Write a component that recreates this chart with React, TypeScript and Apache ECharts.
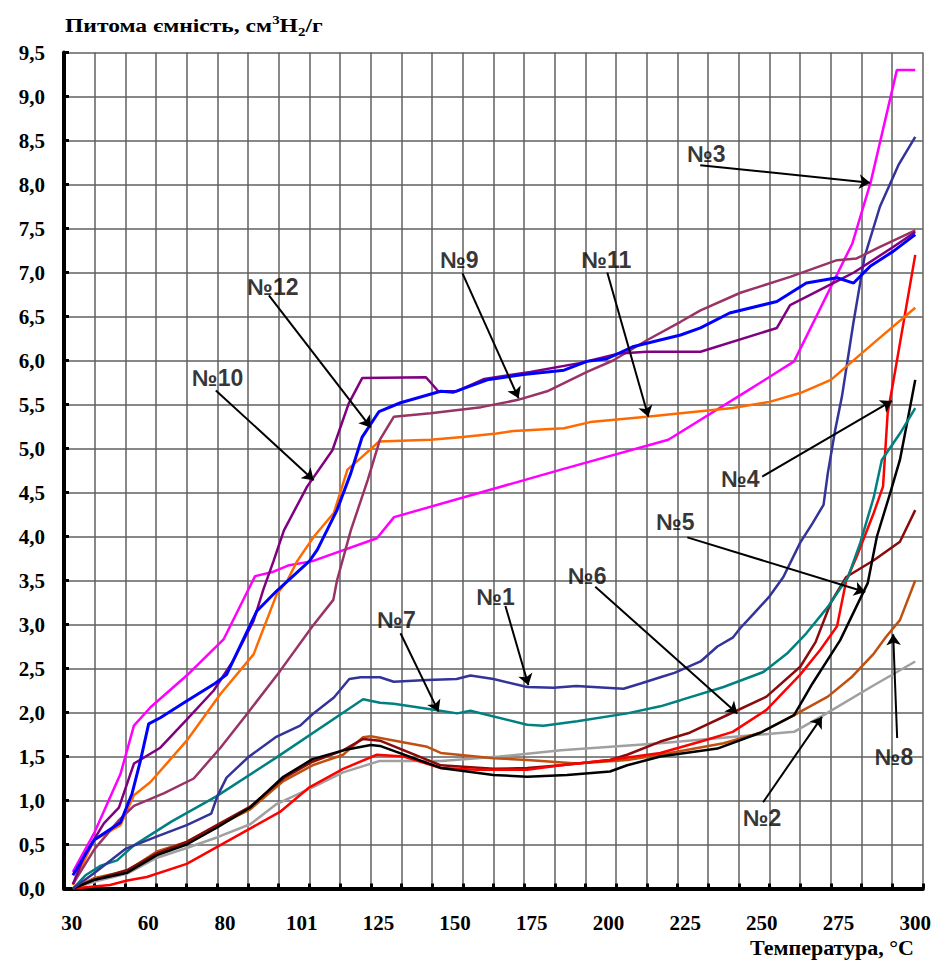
import React, { useEffect, useRef } from "react";
import * as echarts from "echarts";

// x positions are in grid-cell units along the temperature scale (0..28);
// temperature label k sits at position 0.25 + 2.5 * k
const tempLabels = ["30", "60", "80", "101", "125", "150", "175", "200", "225", "250", "275", "300"];
const labelPositions = tempLabels.map((_, k) => 0.25 + 2.5 * k);

type P = [number, number];

const s1: P[] = [[0.29,0],[1.0,0.18],[2.0,0.45],[3.1,0.6],[4.0,0.72],[4.8,0.85],[5.0,1.05],[5.3,1.26],[6.0,1.49],[6.9,1.72],[7.7,1.85],[8.1,1.98],[8.8,2.17],[9.3,2.38],[9.67,2.40],[10.3,2.40],[10.75,2.35],[11.84,2.37],[12.8,2.38],[13.25,2.42],[14.0,2.38],[15.1,2.29],[15.96,2.28],[16.7,2.30],[17.25,2.29],[18.24,2.27],[18.8,2.33],[19.44,2.40],[19.9,2.45],[20.75,2.58],[21.3,2.75],[21.8,2.85],[22.05,2.96],[22.5,3.13],[23.0,3.32],[23.45,3.54],[24.0,3.93],[24.4,4.15],[24.76,4.36],[24.9,4.72],[25.14,5.21],[25.36,5.59],[25.73,6.42],[26.1,7.18],[26.6,7.75],[27.2,8.22],[27.75,8.54]];
const s2: P[] = [[0.29,0],[1.0,0.08],[2.06,0.17],[3.03,0.35],[4.0,0.46],[4.98,0.58],[6.07,0.73],[6.93,0.96],[8.1,1.15],[9.1,1.32],[10.3,1.45],[12.3,1.45],[14.2,1.5],[16.2,1.57],[19.44,1.65],[21.0,1.70],[22.05,1.73],[23.8,1.78],[24.76,1.97],[26.4,2.31],[27.75,2.58]];
const s3: P[] = [[0.29,0.19],[0.97,0.62],[1.84,1.30],[2.28,1.85],[2.82,2.06],[4.0,2.42],[5.2,2.83],[6.23,3.55],[6.83,3.60],[7.3,3.67],[8.1,3.72],[10.2,3.98],[10.76,4.22],[16.2,4.76],[19.7,5.10],[22.3,5.66],[23.8,5.99],[25.7,7.33],[26.3,8.03],[27.15,9.3],[27.75,9.3]];
const s4: P[] = [[0.29,0],[1.5,0.04],[2.06,0.09],[2.7,0.13],[4.0,0.28],[4.98,0.47],[5.96,0.66],[7.04,0.87],[8.0,1.15],[9.1,1.36],[10.2,1.52],[11.07,1.50],[12.28,1.37],[13.47,1.35],[15.1,1.35],[16.2,1.40],[17.8,1.46],[19.44,1.54],[20.96,1.69],[21.8,1.78],[22.9,2.03],[24.0,2.43],[24.65,2.71],[25.2,2.98],[25.5,3.5],[25.84,3.77],[26.4,4.27],[26.7,4.57],[26.85,5.4],[27.03,5.75],[27.75,7.2]];
const s5: P[] = [[0.29,0],[1.0,0.1],[2.06,0.18],[3.03,0.38],[4.0,0.50],[4.98,0.69],[6.07,0.92],[7.15,1.27],[8.1,1.47],[9.1,1.57],[10.0,1.63],[10.3,1.62],[12.28,1.37],[14.0,1.29],[15.1,1.27],[16.4,1.29],[17.8,1.33],[18.36,1.40],[19.44,1.50],[21.3,1.59],[22.7,1.77],[23.8,1.97],[24.4,2.33],[25.3,2.82],[26.2,3.47],[26.5,4.0],[26.93,4.49],[27.25,4.87],[27.5,5.32],[27.75,5.78]];
const s6: P[] = [[0.29,0],[1.0,0.1],[2.06,0.21],[3.03,0.40],[4.0,0.53],[4.98,0.72],[6.07,0.93],[7.15,1.25],[8.1,1.44],[9.1,1.57],[9.75,1.70],[10.3,1.68],[12.28,1.40],[14.0,1.36],[15.1,1.37],[16.2,1.40],[17.8,1.46],[18.36,1.52],[19.44,1.67],[20.4,1.77],[21.8,2.0],[22.9,2.18],[24.0,2.52],[24.5,2.80],[25.0,3.25],[25.5,3.54],[26.4,3.73],[27.25,3.94],[27.75,4.3]];
const s7: P[] = [[0.29,0],[0.7,0.15],[1.2,0.26],[1.73,0.32],[2.28,0.49],[3.5,0.76],[4.98,1.05],[6.93,1.49],[9.75,2.15],[10.3,2.11],[10.75,2.10],[12.06,2.03],[12.82,1.99],[13.25,2.02],[15.1,1.86],[15.63,1.85],[16.73,1.90],[18.36,1.99],[19.44,2.07],[20.1,2.14],[21.5,2.29],[22.8,2.46],[23.57,2.67],[24.2,2.9],[24.9,3.2],[25.56,3.54],[25.96,3.93],[26.4,4.45],[26.66,4.87],[27.25,5.17],[27.75,5.46]];
const s8: P[] = [[0.29,0],[1.0,0.12],[2.06,0.2],[3.03,0.42],[4.0,0.53],[4.98,0.71],[6.07,0.90],[7.15,1.22],[8.1,1.40],[9.1,1.52],[9.75,1.72],[10.0,1.73],[11.84,1.61],[12.28,1.54],[14.0,1.48],[15.1,1.46],[16.73,1.42],[18.36,1.46],[19.44,1.52],[21.5,1.65],[22.7,1.77],[23.8,1.97],[24.9,2.18],[25.7,2.41],[26.4,2.67],[26.8,2.86],[27.25,3.05],[27.75,3.5]];
const s9: P[] = [[0.29,0.05],[1.0,0.45],[1.8,0.78],[2.28,0.94],[3.25,1.08],[4.23,1.25],[5.1,1.6],[5.96,1.98],[7.04,2.47],[8.1,2.98],[8.78,3.28],[8.9,3.5],[9.35,4.07],[9.9,4.64],[10.3,5.1],[10.75,5.36],[11.95,5.40],[13.6,5.47],[14.77,5.55],[15.75,5.65],[17.05,5.87],[17.9,6.0],[19.0,6.23],[20.1,6.44],[20.75,6.57],[22.05,6.77],[23.67,6.95],[25.2,7.14],[25.84,7.16],[26.6,7.29],[27.75,7.48]];
const s10: P[] = [[0.29,0.05],[0.7,0.4],[1.3,0.74],[1.79,0.92],[2.28,1.42],[3.14,1.60],[4.0,1.92],[4.88,2.25],[5.5,2.58],[6.18,3.04],[6.5,3.4],[6.83,3.72],[7.17,4.07],[7.93,4.57],[8.75,4.98],[9.28,5.51],[9.72,5.80],[11.8,5.81],[12.2,5.65],[12.8,5.65],[13.7,5.79],[15.2,5.87],[16.8,5.97],[18.1,6.08],[19.0,6.1],[20.75,6.1],[23.24,6.37],[23.67,6.63],[25.25,6.91],[25.75,7.0],[27.03,7.29],[27.75,7.46]];
const s11: P[] = [[0.29,0.04],[0.98,0.55],[1.84,0.72],[2.28,1.06],[2.82,1.21],[4.0,1.68],[5.1,2.21],[6.18,2.66],[6.93,3.34],[7.28,3.5],[7.6,3.72],[8.15,4.0],[8.8,4.27],[9.24,4.76],[9.67,4.89],[10.27,5.08],[11.95,5.10],[13.0,5.13],[14.1,5.17],[14.65,5.2],[16.3,5.23],[17.15,5.3],[19.0,5.36],[20.1,5.4],[21.8,5.46],[23.0,5.53],[24.0,5.63],[25.0,5.78],[25.5,5.93],[26.4,6.2],[27.75,6.6]];
const s12: P[] = [[0.29,0.15],[0.98,0.55],[1.84,0.75],[2.22,1.08],[2.49,1.45],[2.76,1.87],[3.14,1.94],[4.0,2.13],[4.88,2.32],[5.3,2.43],[6.28,3.15],[6.93,3.38],[8.0,3.72],[8.26,3.85],[8.9,4.3],[9.35,4.72],[9.72,5.13],[10.27,5.42],[10.97,5.52],[12.28,5.65],[12.7,5.64],[13.8,5.78],[14.98,5.84],[16.3,5.89],[17.05,5.99],[17.7,6.02],[18.57,6.16],[20.1,6.29],[20.75,6.37],[21.7,6.54],[23.24,6.67],[24.2,6.88],[25.2,6.94],[25.74,6.88],[26.28,7.07],[27.03,7.24],[27.75,7.43]];

const seriesNames = ["№1", "№2", "№3", "№4", "№5", "№6", "№7", "№8", "№9", "№10", "№11", "№12"];
const seriesData = [s1, s2, s3, s4, s5, s6, s7, s8, s9, s10, s11, s12];
const seriesColors = ["#333399", "#a0a0a0", "#ff00ff", "#ff0000", "#000000", "#8b0a0a", "#008080", "#c0500f", "#993366", "#800080", "#ff6a00", "#0000ff"];
const drawOrder = [1, 7, 5, 3, 4, 6, 0, 2, 10, 8, 9, 11];

// annotation: label anchor and arrow (start -> tip), in axis units
const annoLabel: P[] = [[14.07,3.31],[22.76,0.80],[20.94,8.35],[22.05,4.65],[19.93,4.16],[17.06,3.55],[10.84,3.05],[27.06,1.49],[12.89,7.14],[5.01,5.80],[17.68,7.14],[6.81,6.84]];
const arrowFrom: P[] = [[14.39,3.21],[22.79,0.98],[20.74,8.22],[22.76,4.68],[20.32,3.99],[17.32,3.43],[10.97,2.90],[27.16,1.71],[12.99,6.99],[4.95,5.66],[17.71,7.0],[6.68,6.74]];
const arrowTo: P[] = [[15.14,2.31],[24.71,1.95],[26.28,8.02],[26.99,5.54],[26.12,3.37],[21.95,1.99],[12.21,2.01],[27.03,2.89],[14.82,5.57],[8.14,4.64],[19.05,5.36],[10.0,5.24]];

const SERIF = "'Liberation Serif', 'Times New Roman', 'DejaVu Serif', serif";
const SANS = "'Liberation Sans', Arial, 'DejaVu Sans', sans-serif";

export default function App() {
  const ref = useRef<HTMLDivElement>(null);
  useEffect(() => {
    document.body.style.margin = "0";
    if (!ref.current) return;
    const chart = echarts.init(ref.current, undefined, { renderer: "svg" });
    const lineSeries = drawOrder.map((i) => ({
      type: "line",
      name: seriesNames[i],
      data: seriesData[i],
      showSymbol: false,
      symbol: "none",
      smooth: false,
      lineStyle: { color: seriesColors[i], width: i === 11 ? 3 : 2.5 },
      z: 3,
    }));
    chart.setOption({
      animation: false,
      backgroundColor: "#ffffff",
      grid: { left: 64, right: 11, top: 52.5, bottom: 74.5, containLabel: false },
      xAxis: {
        type: "value",
        min: 0,
        max: 28,
        interval: 1,
        axisLine: { show: true, onZero: false, lineStyle: { color: "#000", width: 4 } },
        axisTick: { show: true, inside: true, length: 5, lineStyle: { color: "#000", width: 3 } },
        splitLine: { show: true, lineStyle: { color: "#606060", width: 1.5 } },
        axisLabel: {
          customValues: labelPositions,
          formatter: (v: number) => tempLabels[Math.round((v - 0.25) / 2.5)] ?? "",
          margin: 24,
          fontFamily: SERIF,
          fontWeight: "bold",
          fontSize: 21,
          color: "#000",
        },
      },
      yAxis: {
        type: "value",
        min: 0,
        max: 9.5,
        interval: 0.5,
        axisLine: { show: true, lineStyle: { color: "#000", width: 4 } },
        axisTick: { show: true, inside: true, length: 5, lineStyle: { color: "#000", width: 3 } },
        splitLine: { show: true, lineStyle: { color: "#606060", width: 1.5 } },
        axisLabel: {
          formatter: (v: number) => v.toFixed(1).replace(".", ","),
          margin: 19,
          fontFamily: SERIF,
          fontWeight: "bold",
          fontSize: 21,
          color: "#000",
        },
      },
      graphic: [
        {
          type: "text",
          x: 65,
          y: 14,
          scaleX: 1.24,
          style: {
            text: "{a|Питома ємність, см}{sup|3}{a|H}{sub|2}{a|/г}",
            rich: {
              a: { fontFamily: SERIF, fontWeight: "bold", fontSize: 19, fill: "#000", lineHeight: 24, verticalAlign: "middle" },
              sup: { fontFamily: SERIF, fontWeight: "bold", fontSize: 12, fill: "#000", lineHeight: 24, verticalAlign: "top" },
              sub: { fontFamily: SERIF, fontWeight: "bold", fontSize: 12, fill: "#000", lineHeight: 24, verticalAlign: "bottom" },
            },
          },
        },
        {
          type: "text",
          x: 914,
          y: 948,
          scaleX: 1.1,
          style: {
            text: "Температура, °С",
            font: `bold 20px ${SERIF}`,
            fill: "#000",
            align: "right",
            verticalAlign: "middle",
          },
        },
      ],
      series: [
        ...lineSeries,
        {
          type: "lines",
          coordinateSystem: "cartesian2d",
          silent: true,
          z: 5,
          symbol: ["none", "arrow"],
          symbolSize: 11,
          lineStyle: { color: "#000", width: 2, opacity: 1 },
          data: arrowFrom.map((f, i) => ({ coords: [f, arrowTo[i]] })),
        },
        {
          type: "scatter",
          silent: true,
          z: 6,
          symbolSize: 1,
          itemStyle: { color: "rgba(0,0,0,0)" },
          label: {
            show: true,
            position: "inside",
            formatter: "{b}",
            fontFamily: SANS,
            fontWeight: "bold",
            fontSize: 23,
            color: "#000",
          },
          data: annoLabel.map((p, i) => ({ name: seriesNames[i], value: p })),
        },
      ],
    });
    return () => chart.dispose();
  }, []);
  return <div ref={ref} style={{ width: 934, height: 963 }} />;
}
